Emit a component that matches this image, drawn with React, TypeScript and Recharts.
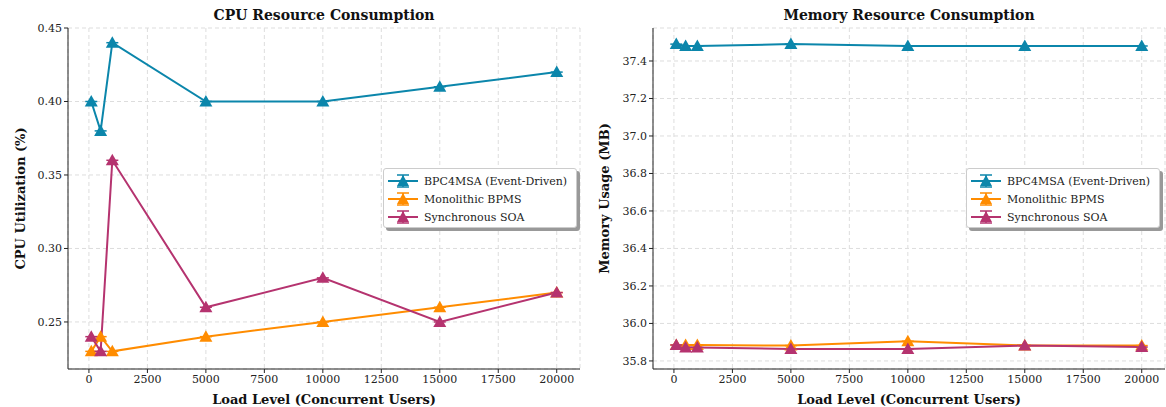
import React from 'react';
import { LineChart, Line, XAxis, YAxis, CartesianGrid, Label } from 'recharts';

const loads = [100, 500, 1000, 5000, 10000, 15000, 20000];

const cpuEvent = [0.4, 0.38, 0.44, 0.4, 0.4, 0.41, 0.42];
const cpuMono = [0.23, 0.24, 0.23, 0.24, 0.25, 0.26, 0.27];
const cpuSoa = [0.24, 0.23, 0.36, 0.26, 0.28, 0.25, 0.27];

const memEvent = [37.49, 37.48, 37.48, 37.49, 37.48, 37.48, 37.48];
const memMono = [35.885, 35.885, 35.885, 35.882, 35.905, 35.883, 35.882];
const memSoa = [35.885, 35.872, 35.872, 35.864, 35.864, 35.882, 35.874];

const xTicks = [0, 2500, 5000, 7500, 10000, 12500, 15000, 17500, 20000];
const cpuTicks = [0.25, 0.3, 0.35, 0.4, 0.45];
const memTicks = [35.8, 36.0, 36.2, 36.4, 36.6, 36.8, 37.0, 37.2, 37.4];

const seriesNames = ['BPC4MSA (Event-Driven)', 'Monolithic BPMS', 'Synchronous SOA'];
const colors = ['#0b86ab', '#ff8c00', '#b5336f'];

const FONT = '"DejaVu Serif", serif';

const cpuRows = loads.map((load, i) => ({ load, a: cpuEvent[i], b: cpuMono[i], c: cpuSoa[i] }));
const memRows = loads.map((load, i) => ({ load, a: memEvent[i], b: memMono[i], c: memSoa[i] }));

const Marker = ({ cx, cy, color }: { cx: number; cy: number; color: string }) => (
  <g>
    <line x1={cx - 6} x2={cx + 6} y1={cy} y2={cy} stroke={color} strokeWidth={1.5} />
    <polygon
      points={`${cx},${cy - 6.5} ${cx - 6.5},${cy + 5} ${cx + 6.5},${cy + 5}`}
      fill={color}
    />
  </g>
);

const makeDot = (color: string) => (props: any) => {
  const { cx, cy, index } = props;
  if (cx == null || cy == null) return <g key={index} />;
  return <Marker key={index} cx={cx} cy={cy} color={color} />;
};

function LegendBox({ left }: { left: number }) {
  return (
    <div
      style={{
        position: 'absolute',
        left,
        top: 168,
        width: 194,
        height: 60,
        boxSizing: 'border-box',
        background: 'white',
        border: '1px solid #cccccc',
        borderRadius: 3,
        boxShadow: '3px 3px 0 #999999',
        padding: '3px 4px',
        fontFamily: FONT,
        fontSize: 11,
        color: '#222',
      }}
    >
      {seriesNames.map((name, i) => (
        <div key={name} style={{ display: 'flex', alignItems: 'center', height: 18 }}>
          <svg width={30} height={16} style={{ marginRight: 6, flexShrink: 0 }}>
            <line x1={0} x2={30} y1={8} y2={8} stroke={colors[i]} strokeWidth={2} />
            <line x1={9} x2={21} y1={2} y2={2} stroke={colors[i]} strokeWidth={1.5} />
            <line x1={15} x2={15} y1={2} y2={14} stroke={colors[i]} strokeWidth={1.5} />
            <line x1={9} x2={21} y1={14} y2={14} stroke={colors[i]} strokeWidth={1.5} />
            <polygon points="15,2 9,13 21,13" fill={colors[i]} />
          </svg>
          <span style={{ whiteSpace: 'nowrap' }}>{name}</span>
        </div>
      ))}
    </div>
  );
}

interface PanelProps {
  rows: Array<{ load: number; a: number; b: number; c: number }>;
  title: string;
  yLabel: string;
  yTicks: number[];
  yDomain: [number, number];
  yDigits: number;
  width: number;
  yWidth: number;
  rightPad: number;
  legendLeft: number;
  labelOffset: number;
}

function Panel({ rows, title, yLabel, yTicks, yDomain, yDigits, width, yWidth, rightPad, legendLeft, labelOffset }: PanelProps) {
  const tickStyle = { fontSize: 11, fill: '#222', fontFamily: FONT };
  return (
    <div style={{ position: 'relative', width, height: 407 }}>
      <div
        style={{
          position: 'absolute',
          top: 7,
          left: yWidth,
          right: rightPad,
          textAlign: 'center',
          fontFamily: FONT,
          fontWeight: 'bold',
          fontSize: 14,
          color: '#111',
        }}
      >
        {title}
      </div>
      <LineChart width={width} height={407} data={rows} margin={{ top: 28, right: rightPad, bottom: 0, left: 0 }}>
        <CartesianGrid stroke="#dddddd" strokeDasharray="4 3" />
        <XAxis
          dataKey="load"
          type="number"
          domain={[-895, 20995]}
          ticks={xTicks}
          allowDataOverflow
          tick={tickStyle}
          tickLine={{ stroke: '#222' }}
          axisLine={{ stroke: '#222' }}
          tickSize={4}
          height={38}
        >
          <Label
            value="Load Level (Concurrent Users)"
            position="insideBottom"
            offset={3}
            style={{ fontFamily: FONT, fontWeight: 'bold', fontSize: 13, fill: '#111' }}
          />
        </XAxis>
        <XAxis xAxisId="top" orientation="top" dataKey="load" type="number" domain={[-895, 20995]} height={0} tick={false} tickLine={false} axisLine={{ stroke: '#222' }} />
        <YAxis
          type="number"
          domain={yDomain}
          ticks={yTicks}
          allowDataOverflow
          width={yWidth}
          tick={tickStyle}
          tickLine={{ stroke: '#222' }}
          axisLine={{ stroke: '#222' }}
          tickSize={4}
          tickFormatter={(v: number) => v.toFixed(yDigits)}
        >
          <Label
            value={yLabel}
            angle={-90}
            position="insideLeft"
            offset={labelOffset}
            style={{ fontFamily: FONT, fontWeight: 'bold', fontSize: 13, fill: '#111', textAnchor: 'middle' }}
          />
        </YAxis>
        <YAxis yAxisId="right" orientation="right" width={0} domain={yDomain} tick={false} tickLine={false} axisLine={{ stroke: '#222' }} />
        {(['a', 'b', 'c'] as const).map((key, i) => (
          <Line
            key={key}
            dataKey={key}
            name={seriesNames[i]}
            stroke={colors[i]}
            strokeWidth={2}
            dot={makeDot(colors[i])}
            activeDot={false}
            isAnimationActive={false}
          />
        ))}
      </LineChart>
      <LegendBox left={legendLeft} />
    </div>
  );
}

export default function App() {
  return (
    <div style={{ position: 'absolute', left: 0, top: 0, width: 1166, height: 407, background: 'white', display: 'flex' }}>
      <Panel
        rows={cpuRows}
        title="CPU Resource Consumption"
        yLabel="CPU Utilization (%)"
        yTicks={cpuTicks}
        yDomain={[0.218, 0.45]}
        yDigits={2}
        width={590}
        yWidth={68}
        rightPad={10}
        legendLeft={383}
        labelOffset={20}
      />
      <Panel
        rows={memRows}
        title="Memory Resource Consumption"
        yLabel="Memory Usage (MB)"
        yTicks={memTicks}
        yDomain={[35.757, 37.576]}
        yDigits={1}
        width={576}
        yWidth={63}
        rightPad={1}
        legendLeft={376}
        labelOffset={14}
      />
    </div>
  );
}
